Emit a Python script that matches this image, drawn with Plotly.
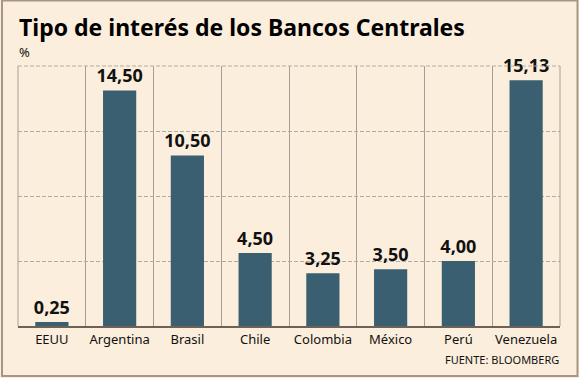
import plotly.graph_objects as go

categories = ["EEUU", "Argentina", "Brasil", "Chile", "Colombia", "México", "Perú", "Venezuela"]
values = [0.25, 14.50, 10.50, 4.50, 3.25, 3.50, 4.00, 15.13]
value_labels = ["0,25", "14,50", "10,50", "4,50", "3,25", "3,50", "4,00", "15,13"]
title_text = "Tipo de interés de los Bancos Centrales"
unit_text = "%"
source_text = "FUENTE: BLOOMBERG"

BG = "#FCEEDC"
BAR = "#3A5F70"
GRID = "#A59E96"

fig = go.Figure(go.Bar(
    x=categories, y=values,
    text=value_labels, textposition="outside",
    textfont=dict(family="Noto Sans", size=18, color="#111111", weight="bold"),
    marker=dict(color=BAR, line=dict(width=0)),
    cliponaxis=False, constraintext="none", hoverinfo="skip",
))

fig.update_layout(
    width=579, height=378,
    paper_bgcolor=BG, plot_bgcolor=BG,
    margin=dict(l=18, r=19, t=66, b=52, autoexpand=False),
    bargap=0.51,
    showlegend=False,
    uniformtext=dict(mode=False),
    xaxis=dict(
        type="category", tickson="boundaries", tickangle=0,
        showgrid=True, gridcolor=GRID, gridwidth=1,
        showline=True, linecolor="#6E6258", linewidth=2,
        ticks="outside", ticklen=3, tickcolor="rgba(0,0,0,0)",
        tickfont=dict(family="Noto Sans", size=13, color="#111111"),
        mirror=False, zeroline=False, automargin=False,
    ),
    yaxis=dict(
        range=[0, 16], dtick=4, showticklabels=False,
        showgrid=True, gridcolor="#B3ABA2", griddash="4px,2px", gridwidth=1,
        zeroline=False, showline=False, ticks="", automargin=False,
    ),
    annotations=[
        dict(text="<b>" + title_text + "</b>", xref="paper", yref="paper",
             x=-0.002, y=1.15, xanchor="left", yanchor="middle", showarrow=False,
             font=dict(family="Noto Sans", size=23, color="#000000")),
        dict(text=unit_text, xref="paper", yref="paper",
             x=-0.002, y=1.054, xanchor="left", yanchor="middle", showarrow=False,
             font=dict(family="Noto Sans", size=13, color="#111111")),
        dict(text=source_text, xref="paper", yref="paper",
             x=1.002, y=-0.127, xanchor="right", yanchor="middle", showarrow=False,
             font=dict(family="Noto Sans", size=11, color="#111111")),
    ],
    shapes=[
        dict(type="rect", xref="paper", yref="paper",
             x0=-0.0295, x1=1.0323, y0=-0.192, y1=1.252,
             line=dict(color="#A89584", width=2), fillcolor="rgba(0,0,0,0)", layer="below"),
        dict(type="line", xref="paper", yref="paper", x0=1, x1=1, y0=0, y1=1,
             line=dict(color=GRID, width=1)),
        dict(type="line", xref="paper", yref="paper", x0=0, x1=0, y0=0, y1=1,
             line=dict(color=GRID, width=1)),
        dict(type="line", xref="paper", yref="paper", x0=0, x1=1, y0=1, y1=1,
             line=dict(color="#B3ABA2", width=1, dash="4px,2px")),
    ],
)

fig.write_html(
    "out.html",
    config={"displayModeBar": False, "staticPlot": True},
    post_script="document.body.style.margin='0';document.body.style.overflow='hidden';",
)
